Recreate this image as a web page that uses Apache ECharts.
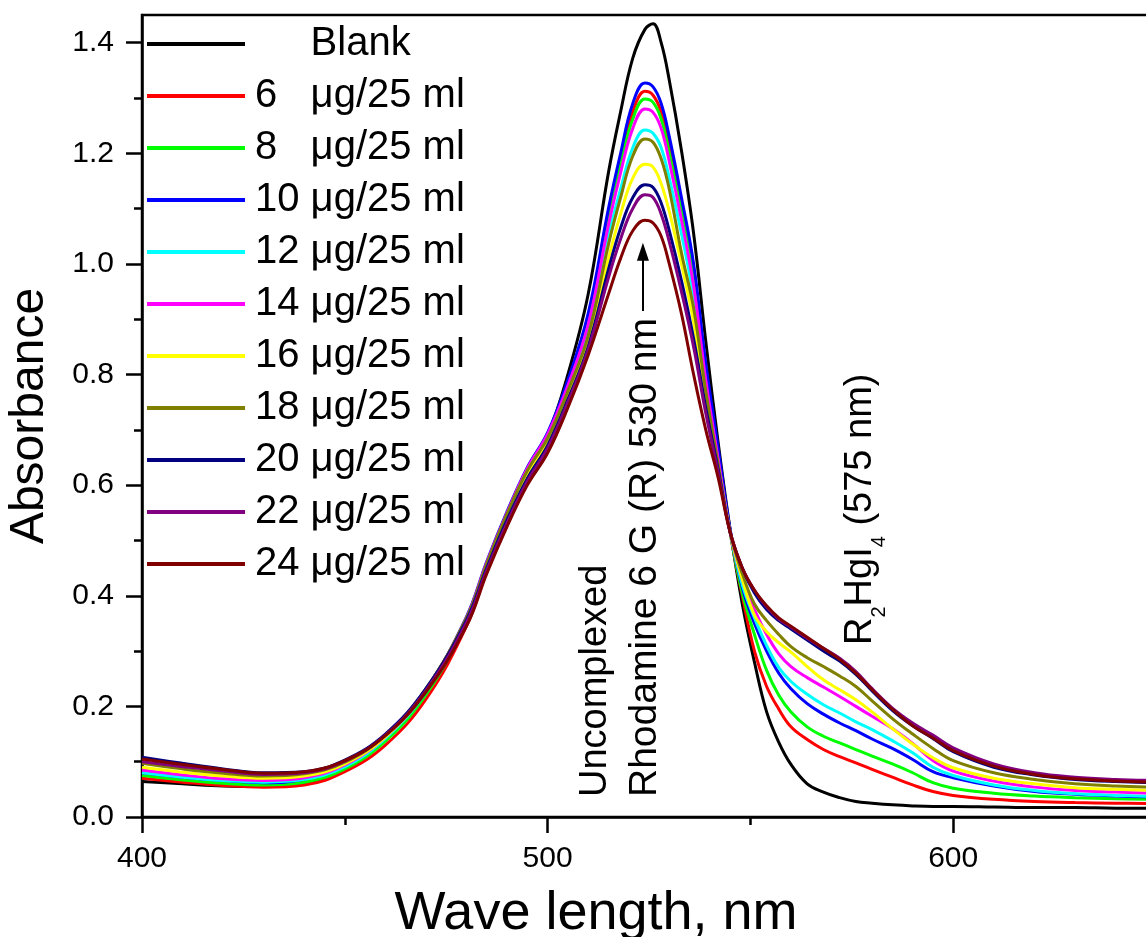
<!DOCTYPE html>
<html><head><meta charset="utf-8">
<script src="https://cdn.jsdelivr.net/npm/echarts@6/dist/echarts.min.js"></script>
<style>html,body{margin:0;padding:0;background:#fff}#c{width:1146px;height:937px}</style>
</head><body><div id="c"></div>
<script>
// wavelength grid (nm)
const wavelengths = [400,410,420,430,440,450,460,470,480,485,
                     490,495,500,505,510,515,518,521,524,526,
                     528,530,533,536,539,542,545,548,551,554,
                     557,560,564,568,572,576,580,585,590,595,
                     600,610,620,630,640,650];

const blank = [.064,.060,.056,.055,.060,.085,.140,.225,.355,.455,
               .545,.625,.690,.800,.945,1.165,1.275,1.372,1.424,1.434,
               1.400,1.332,1.205,1.055,.860,.680,.520,.385,.280,.190,
               .135,.095,.060,.045,.035,.028,.025,.022,.020,.019,
               .019,.018,.017,.017,.016,.016];
const c6 = [.070,.063,.057,.054,.058,.082,.130,.213,.345,.445,
            .535,.615,.678,.780,.900,1.090,1.190,1.275,1.312,1.305,
            1.275,1.215,1.105,.985,.810,.660,.515,.400,.300,.236,
            .195,.163,.140,.122,.109,.098,.086,.072,.058,.046,
            .039,.032,.028,.026,.025,.024];
const c8 = [.075,.067,.061,.058,.063,.087,.137,.221,.352,.452,
            .542,.622,.684,.780,.895,1.080,1.180,1.262,1.298,1.292,
            1.262,1.200,1.095,.975,.800,.655,.515,.405,.330,.265,
            .220,.190,.163,.146,.134,.122,.110,.096,.080,.062,
            .052,.043,.038,.035,.033,.032];
const c10 = [.080,.072,.066,.062,.068,.092,.145,.230,.362,.462,
             .552,.632,.695,.790,.910,1.100,1.200,1.290,1.327,1.320,
             1.290,1.230,1.120,1.000,.820,.670,.520,.415,.350,.300,
             .260,.232,.205,.186,.170,.156,.141,.124,.104,.082,
             .071,.056,.046,.041,.038,.036];
const c12 = [.080,.072,.066,.063,.068,.091,.142,.226,.356,.456,
             .546,.626,.688,.775,.880,1.050,1.135,1.210,1.242,1.236,
             1.210,1.155,1.055,.940,.780,.645,.515,.420,.360,.310,
             .270,.245,.222,.203,.188,.172,.158,.138,.116,.090,
             .075,.058,.048,.042,.039,.037];
const c14 = [.085,.076,.069,.066,.071,.094,.145,.230,.360,.460,
             .550,.630,.692,.780,.890,1.070,1.165,1.245,1.280,1.274,
             1.245,1.185,1.080,.960,.790,.650,.515,.430,.375,.330,
             .295,.272,.252,.235,.218,.200,.182,.160,.133,.102,
             .083,.065,.054,.048,.045,.043];
const c16 = [.090,.081,.074,.070,.074,.096,.145,.228,.355,.454,
             .543,.621,.680,.760,.860,1.010,1.090,1.155,1.180,1.175,
             1.145,1.095,1.000,.895,.755,.635,.515,.430,.365,.335,
             .315,.298,.272,.248,.230,.212,.190,.160,.132,.107,
             .089,.070,.060,.053,.050,.048];
const c18 = [.097,.087,.079,.074,.078,.099,.148,.232,.360,.458,
             .548,.626,.685,.770,.870,1.035,1.120,1.195,1.226,1.220,
             1.190,1.135,1.020,.920,.770,.640,.515,.440,.385,.355,
             .330,.308,.288,.272,.255,.236,.210,.178,.150,.124,
             .102,.080,.068,.060,.056,.054];
const c20 = [.108,.097,.087,.080,.082,.103,.150,.232,.356,.450,
             .537,.612,.672,.755,.850,.990,1.065,1.120,1.143,1.138,
             1.110,1.060,.970,.865,.740,.630,.515,.450,.405,.375,
             .355,.340,.320,.300,.282,.258,.228,.193,.165,.142,
             .118,.090,.076,.068,.064,.062];
const c22 = [.100,.091,.083,.077,.080,.101,.148,.229,.352,.446,
             .532,.607,.667,.750,.845,.975,1.045,1.100,1.125,1.120,
             1.090,1.040,.950,.850,.730,.625,.515,.450,.410,.380,
             .358,.343,.323,.305,.287,.263,.232,.197,.170,.148,
             .125,.096,.080,.072,.068,.066];
const c24 = [.105,.095,.086,.079,.082,.102,.147,.226,.345,.440,
             .525,.600,.658,.740,.835,.945,1.010,1.060,1.079,1.074,
             1.050,1.000,.910,.800,.700,.615,.515,.450,.410,.382,
             .360,.345,.325,.305,.285,.260,.230,.195,.165,.143,
             .120,.092,.077,.069,.065,.063];

const seriesNames = ['Blank','6   μg/25 ml','8   μg/25 ml','10 μg/25 ml','12 μg/25 ml','14 μg/25 ml',
                     '16 μg/25 ml','18 μg/25 ml','20 μg/25 ml','22 μg/25 ml','24 μg/25 ml'];
const seriesValues = [blank,c6,c8,c10,c12,c14,c16,c18,c20,c22,c24];
const seriesColors = ['#000000','#FF0000','#00FF00','#0000FF','#00FFFF','#FF00FF',
                      '#FFFF00','#808000','#000080','#800080','#800000'];

const xMajorTicks = [400,500,600];
const xMinorTicks = [450,550,650];
const yMajorTicks = [0,0.2,0.4,0.6,0.8,1.0,1.2,1.4];
const yMinorTicks = [0.1,0.3,0.5,0.7,0.9,1.1,1.3];

// arrow (wavelength, absorbance) start -> end
const arrowStart = [523.5, 0.915];
const arrowEnd = [523.5, 1.022];

const FONT = '"Liberation Sans", Arial, sans-serif';
const chart = echarts.init(document.getElementById('c'), null, {renderer:'canvas'});

const series = seriesValues.map((vals, k) => {
  const s = {
    name: seriesNames[k],
    type: 'line',
    xAxisIndex: 0, yAxisIndex: 0,
    data: wavelengths.map((w, i) => [w, vals[i]]),
    showSymbol: false,
    smooth: 0.4,
    color: seriesColors[k],
    lineStyle: {width: 3, color: seriesColors[k]},
    emphasis: {disabled: true},
    silent: true
  };
  if (k === 0) {
    s.markLine = {
      silent: true, animation: false,
      symbol: ['none', 'triangle'], symbolSize: [12, 18],
      lineStyle: {color: '#000', width: 2, type: 'solid'},
      label: {show: false},
      emphasis: {disabled: true},
      data: [[{coord: arrowStart}, {coord: arrowEnd}]]
    };
  }
  return s;
});

const option = {
  animation: false,
  backgroundColor: '#fff',
  textStyle: {fontFamily: FONT, color: '#000'},
  grid: {left: 142, right: -10, top: 15, bottom: 120, show: true, borderColor: '#000', borderWidth: 2.5,
         backgroundColor: 'transparent', containLabel: false, outerBoundsMode: 'none'},
  legend: {
    data: seriesNames, orient: 'vertical', left: 147, top: 24, padding: 0,
    itemWidth: 98, itemHeight: 4, itemGap: 12, icon: 'rect', selectedMode: false,
    textStyle: {fontSize: 40, lineHeight: 40, color: '#000', fontFamily: FONT, padding: [0,0,0,5]},
    formatter: n => n === 'Blank' ? '     Blank' : n
  },
  xAxis: [{
    type: 'value', min: 400, max: 650, interval: 100, position: 'bottom',
    axisLine: {show: true, lineStyle: {color: '#000', width: 2.5}},
    axisTick: {show: true, inside: false, length: 16, lineStyle: {color: '#000', width: 2.5}, customValues: xMajorTicks},
    axisLabel: {show: true, fontSize: 30, color: '#000', margin: 27, fontFamily: FONT,
                formatter: v => (xMajorTicks.indexOf(v) >= 0 ? String(v) : '')},
    splitLine: {show: false},
    name: 'Wave length, nm', nameLocation: 'middle', nameGap: 70,
    nameTextStyle: {fontSize: 54, color: '#000', fontFamily: FONT, padding: [0, 106, 0, 0]}
  }, {
    type: 'value', min: 400, max: 650, position: 'bottom', gridIndex: 0,
    axisLine: {show: false},
    axisTick: {show: true, inside: false, length: 8, lineStyle: {color: '#000', width: 2.5}, customValues: xMinorTicks},
    axisLabel: {show: false}, splitLine: {show: false}
  }],
  yAxis: [{
    type: 'value', min: 0, max: 1.45, position: 'left',
    axisLine: {show: true, lineStyle: {color: '#000', width: 2.5}},
    axisTick: {show: true, inside: false, length: 16, lineStyle: {color: '#000', width: 2.5}, customValues: yMajorTicks},
    axisLabel: {show: true, customValues: yMajorTicks, fontSize: 30, color: '#000', margin: 28, fontFamily: FONT,
                formatter: v => Number(v).toFixed(1)},
    splitLine: {show: false},
    name: 'Absorbance', nameLocation: 'middle', nameGap: 88,
    nameTextStyle: {fontSize: 48, color: '#000', fontFamily: FONT}
  }, {
    type: 'value', min: 0, max: 1.45, position: 'left', gridIndex: 0,
    axisLine: {show: false},
    axisTick: {show: true, inside: false, length: 8, lineStyle: {color: '#000', width: 2.5}, customValues: yMinorTicks},
    axisLabel: {show: false}, splitLine: {show: false}
  }],
  graphic: [
    {type: 'text', x: 596, y: 797, rotation: Math.PI / 2, silent: true,
     style: {text: 'Uncomplexed', fontSize: 38, fontFamily: FONT, fill: '#000', align: 'left', verticalAlign: 'middle'}},
    {type: 'text', x: 645, y: 797, rotation: Math.PI / 2, silent: true,
     style: {text: 'Rhodamine 6 G (R) 530 nm', fontSize: 39, fontFamily: FONT, fill: '#000', align: 'left', verticalAlign: 'middle'}},
    {type: 'text', x: 861, y: 645, rotation: Math.PI / 2, silent: true,
     style: {text: '{m|R}{s|2}{m|HgI}{s|4}{m| (575 nm)}', fill: '#000', align: 'left', verticalAlign: 'middle',
             rich: {
               m: {fontSize: 38, lineHeight: 38, fontFamily: FONT, fill: '#000', verticalAlign: 'top'},
               s: {fontSize: 20, lineHeight: 20, fontFamily: FONT, fill: '#000', verticalAlign: 'top', padding: [27, 0, 0, 0]}
             }}}
  ],
  series: series
};
chart.setOption(option);
</script>
</body></html>
